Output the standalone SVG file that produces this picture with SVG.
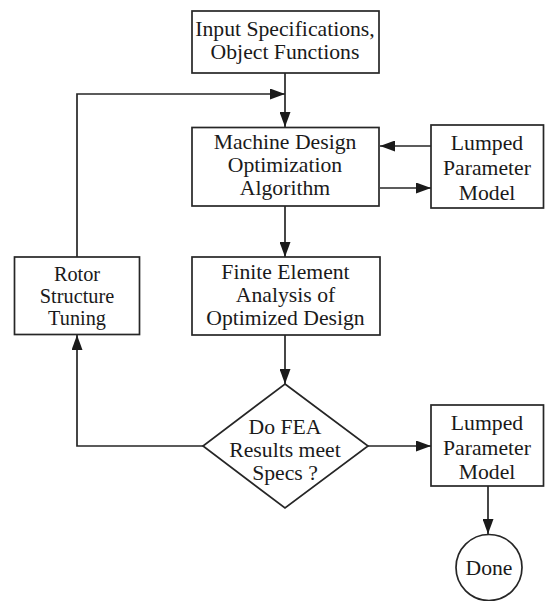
<svg xmlns="http://www.w3.org/2000/svg" width="546" height="601" viewBox="0 0 546 601">
  <style>
    .box { fill: #fff; stroke: #262626; stroke-width: 1.7; }
    .wire { fill: none; stroke: #262626; stroke-width: 1.7; }
    text { font-family: "Liberation Serif", "Times New Roman", serif; font-size: 21.7px; fill: #1a1a1a; text-anchor: middle; }
    .tight { font-size: 20.3px; }
  </style>
  <defs>
    <marker id="arrow" markerUnits="userSpaceOnUse" markerWidth="15" markerHeight="11" refX="15" refY="5.5" orient="auto">
      <path d="M0,0 L15,5.5 L0,11 z" fill="#1a1a1a"/>
    </marker>
  </defs>

  <rect width="546" height="601" fill="#fff"/>

  <!-- connectors -->
  <g id="connectors">
    <line class="wire" x1="285" y1="73" x2="285" y2="127" marker-end="url(#arrow)"/>
    <polyline class="wire" points="77,257 77,94 285,94" marker-end="url(#arrow)"/>
    <line class="wire" x1="431" y1="146" x2="380" y2="146" marker-end="url(#arrow)"/>
    <line class="wire" x1="380" y1="188" x2="431" y2="188" marker-end="url(#arrow)"/>
    <line class="wire" x1="285" y1="206" x2="285" y2="257" marker-end="url(#arrow)"/>
    <line class="wire" x1="285" y1="335" x2="285" y2="384" marker-end="url(#arrow)"/>
    <polyline class="wire" points="203,446 77,446 77,335" marker-end="url(#arrow)"/>
    <line class="wire" x1="368" y1="446" x2="431" y2="446" marker-end="url(#arrow)"/>
    <line class="wire" x1="488" y1="486" x2="488" y2="534" marker-end="url(#arrow)"/>
  </g>

  <g id="input-specs">
    <rect class="box" x="192" y="11" width="187" height="62"/>
    <text x="285" y="36">Input Specifications,</text>
    <text x="285" y="58.5">Object Functions</text>
  </g>

  <g id="optimization">
    <rect class="box" x="192" y="127.5" width="187" height="78.5"/>
    <text x="285" y="148.5">Machine Design</text>
    <text x="285" y="172">Optimization</text>
    <text x="285" y="195">Algorithm</text>
  </g>

  <g id="lumped-model-1">
    <rect class="box" x="431" y="125" width="112.5" height="83"/>
    <text x="487" y="150">Lumped</text>
    <text x="487" y="175">Parameter</text>
    <text x="487" y="199.5">Model</text>
  </g>

  <g id="rotor-tuning">
    <rect class="box" x="14.5" y="257" width="125" height="77.5"/>
    <text class="tight" x="77" y="280.5">Rotor</text>
    <text class="tight" x="77" y="302.5">Structure</text>
    <text class="tight" x="77" y="324.5">Tuning</text>
  </g>

  <g id="fea">
    <rect class="box" x="192" y="257" width="188" height="78"/>
    <text x="285.5" y="278.5">Finite Element</text>
    <text x="285.5" y="302">Analysis of</text>
    <text x="285.5" y="325">Optimized Design</text>
  </g>

  <g id="decision">
    <polygon class="box" points="285,384 368,446 285,508 203,446"/>
    <text x="285" y="433.5">Do FEA</text>
    <text x="285" y="456.5">Results meet</text>
    <text x="285" y="480">Specs ?</text>
  </g>

  <g id="lumped-model-2">
    <rect class="box" x="431" y="405" width="112.5" height="81"/>
    <text x="487" y="429.5">Lumped</text>
    <text x="487" y="454.5">Parameter</text>
    <text x="487" y="478.5">Model</text>
  </g>

  <g id="done">
    <circle class="box" cx="489" cy="567.5" r="33"/>
    <text x="489" y="575">Done</text>
  </g>
</svg>
